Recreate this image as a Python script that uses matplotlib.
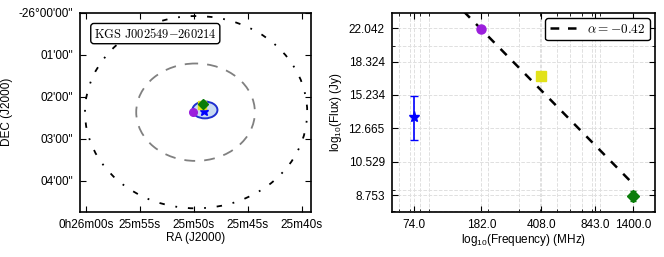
import matplotlib
matplotlib.use('Agg')
import matplotlib.pyplot as plt
import numpy as np
from matplotlib.patches import Ellipse
from matplotlib.font_manager import FontProperties

plt.rcParams['font.family'] = ['Liberation Sans', 'DejaVu Sans']
plt.rcParams['font.size'] = 8.5
plt.rcParams['mathtext.fontset'] = 'custom'
plt.rcParams['mathtext.rm'] = 'Liberation Sans'
plt.rcParams['mathtext.it'] = 'Liberation Sans:italic'

# --- sky map (RA seconds after 0h25m, DEC arcmin below -26 deg) ---
ra_ticks = [60, 55, 50, 45, 40]
ra_labels = ['0h26m00s', '25m55s', '25m50s', '25m45s', '25m40s']
dec_ticks = [0, 1, 2, 3, 4]
dec_labels = ['-26°00\'00"', '01\'00"', '02\'00"', '03\'00"', '04\'00"']

# circles: centre ra, centre dec, width (s), height (arcmin)
outer_circle = (49.8, 2.37, 20.6, 4.58)
mid_circle = (49.85, 2.37, 11.0, 2.32)
beam = (48.98, 2.317, 2.32, 0.40)

src_names = ['purple', 'blue', 'yellow', 'green']
src_ra = [50.05, 49.06, 49.27, 49.15]
src_dec = [2.37, 2.34, 2.20, 2.17]

# --- spectrum ---
freq = [74.0, 182.0, 408.0, 1400.0]
flux = [13.51, 22.0, 16.96, 8.71]
flux_err = [1.65, 0.0, 0.0, 0.25]
alpha = -0.42
fit_ref_freq = 1400.0
fit_ref_flux = 9.30
fit_freq = [74.0, 1400.0]
freq_ticks = [74.0, 182.0, 408.0, 843.0, 1400.0]
flux_ticks = [8.753, 10.529, 12.665, 15.234, 18.324, 22.042]

c_purple = '#9b1fdc'
c_blue = '#0000ff'
c_yellow = '#e2e21a'
c_green = '#0a7d0a'

fig = plt.figure(figsize=(6.64, 2.57), dpi=100)
ax1 = fig.add_axes([0.1205, 0.1763, 0.348, 0.7743])
ax2 = fig.add_axes([0.5899, 0.1763, 0.3965, 0.7743])

# left panel
for (cx, cy, w, h), ls, col, lw in [(outer_circle, (0, (3, 6, 1, 6)), 'k', 1.3),
                                    (mid_circle, (0, (6, 5)), 'gray', 1.3)]:
    ax1.add_patch(Ellipse((cx, cy), w, h, fill=False, ls=ls, ec=col, lw=lw))
ax1.add_patch(Ellipse(beam[:2], beam[2], beam[3], fc='#c8daf2', ec='#1f2fd0', lw=1.4, zorder=3))
ax1.plot(src_ra[0], src_dec[0], 'o', color=c_purple, ms=5.5, mec=c_purple, zorder=4)
ax1.plot(src_ra[1], src_dec[1], '*', color=c_blue, ms=6.5, mec=c_blue, zorder=5)
ax1.plot(src_ra[2], src_dec[2], 's', color=c_yellow, ms=5.5, mec=c_yellow, zorder=6)
ax1.plot(src_ra[3], src_dec[3], 'D', color=c_green, ms=5, mec=c_green, zorder=7)

ax1.set_xlim(60.56, 39.14)
ax1.set_ylim(4.74, 0)
ax1.set_xticks(ra_ticks)
ax1.set_xticklabels(ra_labels)
ax1.set_yticks(dec_ticks)
ax1.set_yticklabels(dec_labels)
ax1.tick_params(direction='in', top=True, right=True, length=4, width=0.8, pad=5)
ax1.set_xlabel('RA (J2000)', labelpad=1)
ax1.set_ylabel('DEC (J2000)', labelpad=4)
ax1.text(0.06, 0.895, r'$\mathrm{KGS\ J002549{-}260214}$', transform=ax1.transAxes,
         fontsize=9, math_fontfamily='cm', va='center', ha='left',
         bbox=dict(boxstyle='round,pad=0.25', fc='white', ec='k', lw=1.0))

# right panel
ax2.set_xscale('log')
ax2.set_yscale('log')
ax2.grid(True, which='both', ls='--', color='#e0e0e0', lw=0.7)
ax2.set_axisbelow(True)

fx = np.array(fit_freq)
ax2.plot(fx, fit_ref_flux * (fx / fit_ref_freq) ** alpha, ls=(0, (3.5, 3.5)), color='k', lw=1.8,
         label=r'$\alpha = -0.42$')
ax2.errorbar(freq[0], flux[0], yerr=flux_err[0], fmt='*', color=c_blue, ms=8, capsize=3, lw=1.2)
ax2.plot(freq[1], flux[1], 'o', color=c_purple, ms=6.5)
ax2.plot(freq[2], flux[2], 's', color=c_yellow, ms=6.5)
ax2.errorbar(freq[3], flux[3], yerr=flux_err[3], fmt='D', color=c_green, ms=6, capsize=2, lw=1.2)

ax2.set_xlim(54.6, 1875)
ax2.set_ylim(7.98, 24.03)
ax2.set_xticks(freq_ticks)
ax2.set_xticklabels(['%.1f' % f for f in freq_ticks])
ax2.set_yticks(flux_ticks)
ax2.set_yticklabels(['%.3f' % f for f in flux_ticks])
ax2.yaxis.set_minor_formatter(plt.NullFormatter())
ax2.xaxis.set_minor_formatter(plt.NullFormatter())
ax2.tick_params(which='both', direction='in', top=True, right=True)
ax2.tick_params(which='major', length=4, width=0.8, pad=5)
ax2.tick_params(which='minor', length=2, width=0.6)
ax2.set_xlabel(r'log$_{10}$(Frequency) (MHz)', labelpad=1)
ax2.set_ylabel(r'log$_{10}$(Flux) (Jy)', labelpad=3)
leg = ax2.legend(loc='upper right', prop=FontProperties(size=9.5, math_fontfamily='cm'),
                 fancybox=True, framealpha=1, edgecolor='k', handlelength=2.0,
                 borderpad=0.35, borderaxespad=0.4)
leg.get_frame().set_linewidth(1.0)

for ax in (ax1, ax2):
    for s in ax.spines.values():
        s.set_linewidth(1.2)

fig.savefig('out.png', dpi=100)
